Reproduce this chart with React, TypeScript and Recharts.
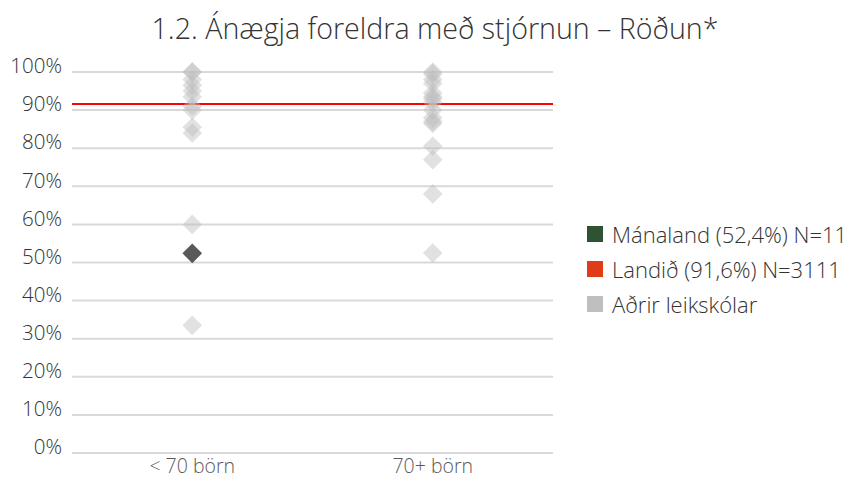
import React from "react";
import {
  ScatterChart,
  Scatter,
  XAxis,
  YAxis,
  CartesianGrid,
  ReferenceLine,
} from "recharts";

const categories = ["< 70 börn", "70+ börn"];
const otherSmall = [100, 100, 98, 96.5, 95, 93.5, 91, 90, 85.5, 84, 60, 33.5];
const otherLarge = [100, 99.5, 98, 97, 94.5, 93.5, 93, 92, 90, 88, 87, 86.5, 80.5, 77, 68, 52.5];
const schoolValue = 52.4;
const schoolCategory = 0;
const nationalValue = 91.6;
const yTicks = [0, 10, 20, 30, 40, 50, 60, 70, 80, 90, 100];
const legendItems = [
  { label: "Mánaland (52,4%) N=11", color: "#2e5330" },
  { label: "Landið (91,6%) N=3111", color: "#e03c17" },
  { label: "Aðrir leikskólar", color: "#bfbfbf" },
];
const title = "1.2. Ánægja foreldra með stjórnun – Röðun*";

const otherData = [
  ...otherSmall.map((v) => ({ x: 0.5, y: v })),
  ...otherLarge.map((v) => ({ x: 1.5, y: v })),
];
const schoolData = [{ x: schoolCategory + 0.5, y: schoolValue }];

const Diamond = (fill: string, opacity: number) => (props: any) => {
  const { cx, cy } = props;
  const r = 9.8;
  return (
    <polygon
      points={`${cx},${cy - r} ${cx + r},${cy} ${cx},${cy + r} ${cx - r},${cy}`}
      fill={fill}
      fillOpacity={opacity}
    />
  );
};

const FONT = "'Open Sans', Lato, sans-serif";

export default function App() {
  return (
    <div
      style={{
        position: "absolute",
        left: 0,
        top: 0,
        width: 848,
        height: 481,
        background: "#fff",
        fontFamily: FONT,
      }}
    >
      <div
        style={{
          position: "absolute",
          left: 0,
          width: 870,
          top: 8,
          textAlign: "center",
          fontSize: 28.6,
          fontWeight: 300,
          color: "#333333",
          whiteSpace: "nowrap",
        }}
      >
        {title}
      </div>
      <div style={{ position: "absolute", left: 0, top: 0 }}>
        <ScatterChart
          width={560}
          height={481}
          margin={{ top: 72, right: 7, left: 0, bottom: 0 }}
        >
          <CartesianGrid
            vertical={false}
            stroke="#d9d9d9"
            strokeWidth={2}
          />
          <XAxis
            type="number"
            dataKey="x"
            domain={[0, 2]}
            ticks={[0.5, 1.5]}
            tickFormatter={(v: number) => categories[Math.floor(v)]}
            axisLine={false}
            tickLine={false}
            height={28}
            tick={{ fill: "#595959", fontSize: 19.5, fontFamily: FONT, fontWeight: 300 }}
            tickMargin={0}
          />
          <YAxis
            type="number"
            dataKey="y"
            domain={[0, 100]}
            ticks={yTicks}
            tickFormatter={(v: number) => `${v}%`}
            axisLine={false}
            tickLine={false}
            width={72}
            tickMargin={4}
            tick={{ fill: "#333333", fontSize: 20.5, fontFamily: FONT, fontWeight: 300, dy: -6 }}
            interval={0}
          />
          <ReferenceLine y={nationalValue} stroke="#ff0000" strokeWidth={2} />
          <Scatter
            data={otherData}
            shape={Diamond("#bdbdbd", 0.45)}
            isAnimationActive={false}
          />
          <Scatter
            data={schoolData}
            shape={Diamond("#595959", 1)}
            isAnimationActive={false}
          />
        </ScatterChart>
      </div>
      <div style={{ position: "absolute", left: 587, top: 216 }}>
        {legendItems.map((it) => (
          <div
            key={it.label}
            style={{
              display: "flex",
              alignItems: "center",
              height: 35,
              fontSize: 22,
              fontWeight: 300,
              color: "#333333",
              whiteSpace: "nowrap",
            }}
          >
            <span
              style={{
                display: "inline-block",
                width: 16,
                height: 16,
                background: it.color,
                marginRight: 9,
              }}
            />
            <span>{it.label}</span>
          </div>
        ))}
      </div>
    </div>
  );
}
